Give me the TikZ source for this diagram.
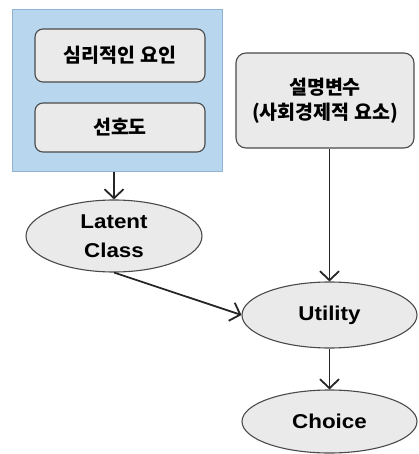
\documentclass[tikz,border=0pt]{standalone}
\usepackage{fontspec}
\setmainfont{Noto Sans CJK KR}
\newfontfamily\latinfont[FakeStretch=1.12]{Liberation Sans}
\usetikzlibrary{arrows.meta,shapes.geometric}
\definecolor{panelblue}{HTML}{B8D7EE}
\definecolor{paneledge}{HTML}{8FB4D3}
\definecolor{boxgray}{HTML}{EAEAEA}
\definecolor{edgegray}{HTML}{4A4A4A}
\tikzset{
  kbox/.style={draw=edgegray, line width=1.1pt, fill=boxgray, rounded corners=8pt,
    font=\bfseries\fontsize{19.5}{25}\selectfont, align=center, inner sep=0pt},
  oval/.style={ellipse, draw=edgegray, line width=1.1pt, fill=boxgray, inner sep=0pt,
    font=\latinfont\bfseries\fontsize{20}{27}\selectfont, align=center},
  link/.style={line width=1.8pt, draw=black!85, -{Straight Barb[length=9pt,width=19pt,line width=1.8pt]}}
}
\begin{document}
\begin{tikzpicture}[x=1pt,y=-1pt]
\useasboundingbox (0,0) rectangle (418,454);
% grouping panel for the two psychological factors
\node[draw=paneledge, line width=1pt, fill=panelblue, minimum width=210pt, minimum height=162pt, inner sep=0pt] (panel) at (117,91) {};
\node[kbox, minimum width=170pt, minimum height=53pt] (psy) at (120,55.5) {심리적인 요인};
\node[kbox, minimum width=170pt, minimum height=49pt] (pref) at (120,127.5) {선호도};
% explanatory variables
\node[kbox, rounded corners=10pt, minimum width=178pt, minimum height=95pt] (expl) at (325,100.5) {설명변수\\(사회경제적 요소)};
% model nodes
\node[oval, minimum width=176pt, minimum height=72pt] (latent) at (114,236) {\raisebox{-4pt}{\shortstack{Latent\\[11pt]Class}}};
\node[oval, minimum width=175pt, minimum height=66pt] (util) at (329.5,315) {Utility};
\node[oval, minimum width=175pt, minimum height=63pt] (choice) at (329.5,421.5) {Choice};
% connectors
\draw[link] (panel.south -| latent.north) -- (latent.north);
\draw[link] (expl.south -| util.north) -- (util.north);
\draw[link] (latent.south) -- (util.west);
\draw[link] (util.south) -- (choice.north);
\end{tikzpicture}
\end{document}
